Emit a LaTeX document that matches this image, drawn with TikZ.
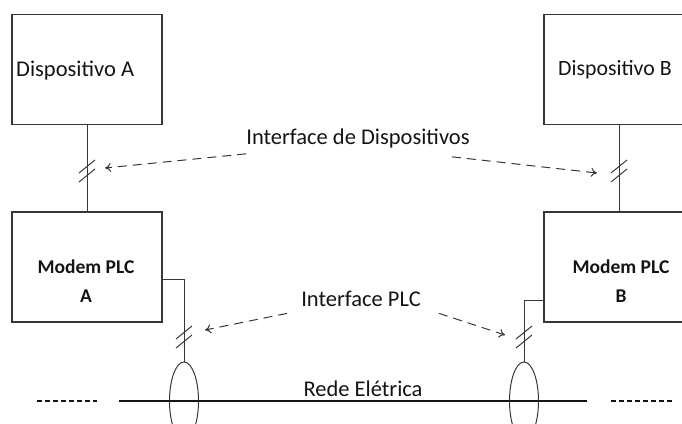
\documentclass[tikz,border=0pt]{standalone}
\usepackage{fontspec}
\setmainfont{Carlito}
\definecolor{linhacinza}{RGB}{55, 55, 55}
\definecolor{textopreto}{RGB}{20, 20, 20}
\usepackage{tikz}
\usetikzlibrary{shapes.geometric, arrows.meta, positioning, calc}

\begin{document}
\begin{tikzpicture}[x=1pt, y=-1pt,
    caixa/.style={draw=linhacinza, line width=1.3pt, minimum width=150pt, minimum height=110pt, inner sep=0pt},
    rotulo/.style={font=\fontsize{22.5}{27}\selectfont, text=textopreto, inner sep=0pt},
    negrito/.style={font=\fontsize{19.5}{29}\selectfont\bfseries, text=textopreto, align=center, inner sep=0pt},
    fio/.style={draw=linhacinza, line width=1pt},
    seta/.style={draw=linhacinza, line width=1pt, dash pattern=on 9pt off 6pt, -{To[length=6pt, width=9pt]}},
    derivacao/.style={ellipse, draw=linhacinza, line width=1pt, minimum width=29pt, minimum height=78pt, inner sep=0pt}]
    \useasboundingbox (0, 0) rectangle (682, 423);
    \clip (0, 0) rectangle (682, 423);

    \node[caixa] (devA) at (87, 69.5) {};
    \node[caixa] (devB) at (619, 69.5) {};
    \node[caixa] (modemA) at (87, 267) {};
    \node[caixa] (modemB) at (619, 267) {};
    \node[rotulo, anchor=base west] at (16, 76) {Dispositivo A};
    \node[rotulo, font=\fontsize{21.8}{26}\selectfont, anchor=base west] at (558, 75) {Dispositivo B};
    \node[negrito, anchor=north] at (86, 260) {Modem PLC\\A};
    \node[negrito, anchor=north] at (621, 260) {Modem PLC\\B};

    \node[derivacao] (tapA) at (184, 401) {};
    \node[derivacao] (tapB) at (524, 401) {};

    \draw[fio] (devA) -- (modemA);
    \draw[fio] (devB) -- (modemB);
    \draw[fio] ([yshift=-12pt]modemA.east) -| (tapA.north);
    \draw[fio] ([yshift=-33pt]modemB.west) -| (tapB.north);

    \coordinate (cortA) at (87, 171);
    \coordinate (cortB) at (619, 171);
    \coordinate (cortC) at (184, 337);
    \coordinate (cortD) at (524, 337);
    \foreach \c in {cortA, cortB, cortC, cortD}
        \draw[fio] ([shift={(-8, 2)}]\c) -- ([shift={(8, -11)}]\c)
                   ([shift={(-8, 11)}]\c) -- ([shift={(8, -2)}]\c);

    \coordinate (redeIni) at (119, 401);
    \coordinate (redeFim) at (587, 401);
    \draw[line width=2.2pt, textopreto] (redeIni) -- (redeFim);
    \draw[line width=2pt, textopreto, dash pattern=on 5pt off 3pt] (37, 401) -- (97, 401);
    \draw[line width=2pt, textopreto, dash pattern=on 5pt off 3pt] (611, 401) -- (672, 401);
    \node[rotulo, anchor=base] (rede) at (363, 396) {Rede Elétrica};

    \node[rotulo, anchor=base] (ifdisp) at (358, 144) {Interface de Dispositivos};
    \node[rotulo, anchor=base] (ifplc) at (361, 306) {Interface PLC};
    \coordinate (pontaA) at (105, 168);
    \coordinate (pontaB) at (597, 173);
    \coordinate (pontaC) at (205, 330);
    \coordinate (pontaD) at (505, 335);
    \draw[seta] ([yshift=-6pt]ifdisp.south west) -- (pontaA);
    \draw[seta] ([shift={(-18pt, -9pt)}]ifdisp.south east) -- (pontaB);
    \draw[seta] ([shift={(-14pt, -7pt)}]ifplc.south west) -- (pontaC);
    \draw[seta] ([shift={(18pt, -7pt)}]ifplc.south east) -- (pontaD);
\end{tikzpicture}
\end{document}
